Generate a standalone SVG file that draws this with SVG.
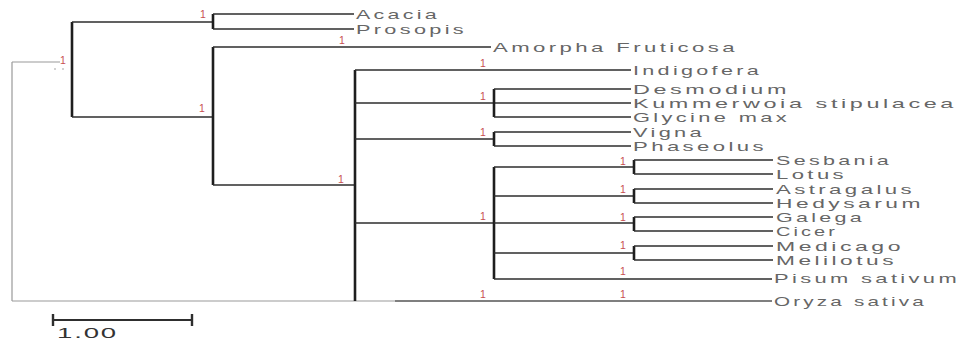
<svg xmlns="http://www.w3.org/2000/svg" width="965" height="342" viewBox="0 0 965 342">
<style>
.h{stroke:#2e2e2e;stroke-width:1.6;fill:none}
.v{stroke:#1e1e1e;stroke-width:2.6;fill:none}
.g{stroke:#9a9a9a;stroke-width:1.2;fill:none}
.lf{font-family:"Liberation Sans",Arial,sans-serif;font-size:13px;fill:#666;letter-spacing:2px}
.bs{font-family:"Liberation Sans",Arial,sans-serif;font-size:10.5px;fill:#c8504f}
.sc{font-family:"Liberation Sans",Arial,sans-serif;font-size:15px;fill:#333;letter-spacing:1px}
</style>
<rect width="965" height="342" fill="#fff"/>
<g id="connectors">
<path class="g" d="M12,62 H60 M12,62 V301 M12,301 H395"/>
<circle cx="55" cy="69" r="0.8" fill="#999"/>
<circle cx="63" cy="69" r="0.8" fill="#999"/>
<path class="v" d="M72,22 V117"/>
<path class="h" d="M72,22 H213 M72,117 H213"/>
<path class="v" d="M213,14 V29"/>
<path class="h" d="M213,14 H354 M213,29 H354"/>
<path class="v" d="M213,47 V185"/>
<path class="h" d="M213,47 H491 M213,185 H355"/>
<path class="v" d="M355,70 V301"/>
<path class="h" d="M355,70 H631 M355,103 H631 M355,139 H494 M355,223 H494"/>
<path class="h" d="M395,301 H772" style="stroke:#555"/>
<path class="v" d="M494,89 V117 M494,132 V146 M494,167 V279"/>
<path class="h" d="M494,89 H631 M494,117 H631 M494,132 H631 M494,146 H631"/>
<path class="h" d="M494,167 H634 M494,196 H634 M494,223 H634 M494,253 H634 M494,279 H772"/>
<path class="v" d="M634,160 V174 M634,189 V203 M634,217 V231 M634,246 V260"/>
<path class="h" d="M634,160 H773 M634,174 H773 M634,189 H773 M634,203 H773 M634,217 H773 M634,231 H773 M634,246 H773 M634,260 H773"/>
<path class="h" d="M53,320 H192" style="stroke-width:2"/>
<path class="h" d="M53,314 V326 M192,314 V326" style="stroke-width:2.4"/>
</g>
<g id="leaf-acacia"><text class="lf" x="356" y="18.5" textLength="84" lengthAdjust="spacingAndGlyphs">Acacia</text></g>
<g id="leaf-prosopis"><text class="lf" x="356" y="33.5" textLength="111" lengthAdjust="spacingAndGlyphs">Prosopis</text></g>
<g id="leaf-amorpha"><text class="lf" x="493" y="51.5" textLength="245" lengthAdjust="spacingAndGlyphs">Amorpha Fruticosa</text></g>
<g id="leaf-indigofera"><text class="lf" x="633" y="74.5" textLength="129" lengthAdjust="spacingAndGlyphs">Indigofera</text></g>
<g id="leaf-desmodium"><text class="lf" x="633" y="93.5" textLength="157" lengthAdjust="spacingAndGlyphs">Desmodium</text></g>
<g id="leaf-kummerwoia"><text class="lf" x="633" y="107.5" textLength="324" lengthAdjust="spacingAndGlyphs">Kummerwoia stipulacea</text></g>
<g id="leaf-glycine"><text class="lf" x="633" y="121.5" textLength="157" lengthAdjust="spacingAndGlyphs">Glycine max</text></g>
<g id="leaf-vigna"><text class="lf" x="633" y="136.5" textLength="72" lengthAdjust="spacingAndGlyphs">Vigna</text></g>
<g id="leaf-phaseolus"><text class="lf" x="633" y="150.5" textLength="134" lengthAdjust="spacingAndGlyphs">Phaseolus</text></g>
<g id="leaf-sesbania"><text class="lf" x="776" y="164.5" textLength="116" lengthAdjust="spacingAndGlyphs">Sesbania</text></g>
<g id="leaf-lotus"><text class="lf" x="776" y="178.5" textLength="71" lengthAdjust="spacingAndGlyphs">Lotus</text></g>
<g id="leaf-astragalus"><text class="lf" x="776" y="193.5" textLength="139" lengthAdjust="spacingAndGlyphs">Astragalus</text></g>
<g id="leaf-hedysarum"><text class="lf" x="776" y="207.5" textLength="148" lengthAdjust="spacingAndGlyphs">Hedysarum</text></g>
<g id="leaf-galega"><text class="lf" x="776" y="221.5" textLength="89" lengthAdjust="spacingAndGlyphs">Galega</text></g>
<g id="leaf-cicer"><text class="lf" x="776" y="235.5" textLength="62" lengthAdjust="spacingAndGlyphs">Cicer</text></g>
<g id="leaf-medicago"><text class="lf" x="776" y="250.5" textLength="128" lengthAdjust="spacingAndGlyphs">Medicago</text></g>
<g id="leaf-melilotus"><text class="lf" x="776" y="264.5" textLength="121" lengthAdjust="spacingAndGlyphs">Melilotus</text></g>
<g id="leaf-pisum"><text class="lf" x="774" y="283" textLength="186" lengthAdjust="spacingAndGlyphs">Pisum sativum</text></g>
<g id="leaf-oryza"><text class="lf" x="774" y="306" textLength="153" lengthAdjust="spacingAndGlyphs">Oryza sativa</text></g>
<g id="support-values">
<text class="bs" x="60" y="64">1</text>
<text class="bs" x="200" y="18">1</text>
<text class="bs" x="339" y="44">1</text>
<text class="bs" x="199" y="112">1</text>
<text class="bs" x="338" y="183">1</text>
<text class="bs" x="480" y="67">1</text>
<text class="bs" x="480" y="100">1</text>
<text class="bs" x="480" y="136">1</text>
<text class="bs" x="480" y="220">1</text>
<text class="bs" x="480" y="298">1</text>
<text class="bs" x="620" y="165">1</text>
<text class="bs" x="620" y="193">1</text>
<text class="bs" x="620" y="221">1</text>
<text class="bs" x="620" y="249">1</text>
<text class="bs" x="620" y="275">1</text>
<text class="bs" x="620" y="298">1</text>
</g>
<g id="scale-label"><text class="sc" x="57" y="338" textLength="61" lengthAdjust="spacingAndGlyphs">1.00</text></g>
</svg>
